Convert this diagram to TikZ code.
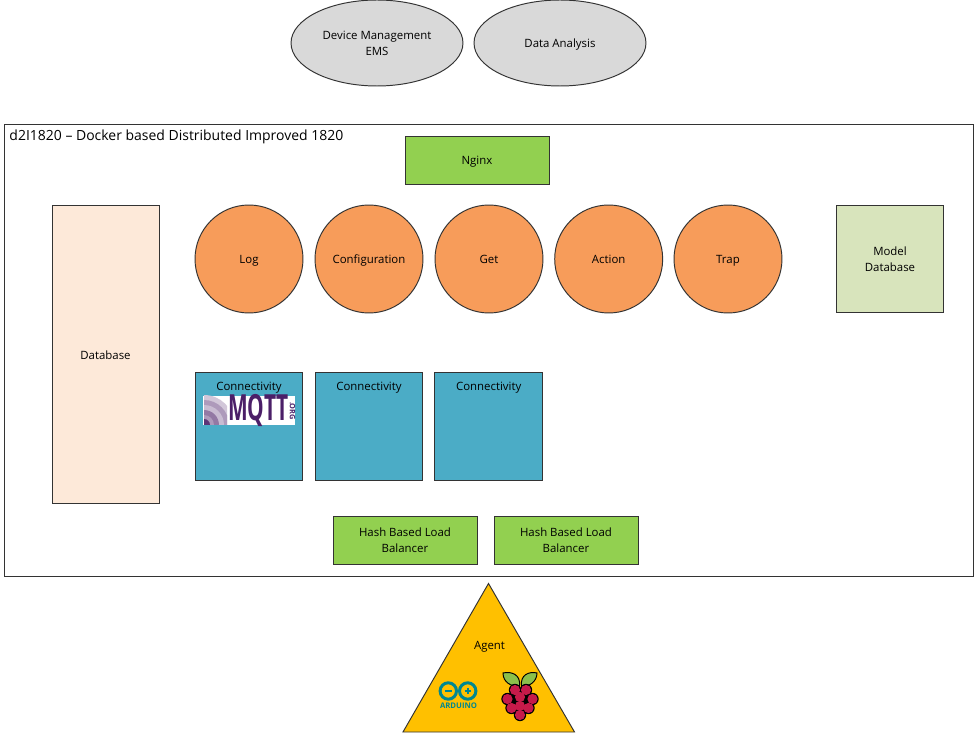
\documentclass[tikz,border=0pt]{standalone}
\usepackage{fontspec}
\setmainfont{Open Sans}
\usetikzlibrary{shapes.geometric}
\definecolor{greyapp}{HTML}{D9D9D9}
\definecolor{greenbox}{HTML}{92D050}
\definecolor{orangeapp}{HTML}{F79C5A}
\definecolor{bluebox}{HTML}{4BACC6}
\definecolor{dbpeach}{HTML}{FDE9D9}
\definecolor{dbgreen}{HTML}{D8E4BC}
\definecolor{agentgold}{HTML}{FFC000}
\definecolor{mqttpurple}{HTML}{4B1F68}
\definecolor{arduteal}{HTML}{00878F}
\definecolor{berryred}{HTML}{C51A4A}
\definecolor{leafgreen}{HTML}{8CC04B}
\tikzset{
  every node/.style={font=\fontsize{6.5pt}{9.2pt}\selectfont, align=center, inner sep=0pt},
  lbl/.style={execute at begin node={\rule{0pt}{#1}}, execute at end node=\strut},
  lbl/.default=7.6pt,
  appoval/.style={draw=black!80, fill=greyapp, ellipse, minimum width=3.44cm, minimum height=1.72cm},
  greenbox/.style={draw=black!80, fill=greenbox, minimum width=2.88cm, minimum height=0.96cm},
  module/.style={draw=black!80, fill=orangeapp, circle, lbl, minimum size=2.16cm},
  connbox/.style={draw=black!80, fill=bluebox, minimum size=2.15cm},
}
\begin{document}
\begin{tikzpicture}[x=0.02cm, y=-0.02cm, line width=0.55pt]
\useasboundingbox (0,0) rectangle (975,733);

% Management Applications
\node[appoval] (ems) at (377,43) {Device Management\\EMS};
\node[appoval, lbl] (analysis) at (560,43) {Data Analysis};

% Main Frame
\node[draw=black!80, minimum width=19.4cm, minimum height=9.04cm] (frame) at (489,350.3) {};
\node[anchor=west, font=\fontsize{7.95pt}{9pt}\selectfont] (title) at (9,136.5) {d2I1820 -- Docker based Distributed Improved 1820};

\node[greenbox, lbl] (nginx) at (477,160) {Nginx};

% Databases
\node[draw=black!80, fill=dbpeach, lbl=8.7pt, minimum width=2.14cm, minimum height=5.98cm] (database) at (105.5,354.5) {Database};
\node[draw=black!80, fill=dbgreen, minimum size=2.15cm] (modeldb) at (890,259) {Model\\Database};

% Modules
\node[module] (log) at (249,259) {Log};
\node[module] (config) at (369,259) {Configuration};
\node[module] (get) at (489,259) {Get};
\node[module] (action) at (608.7,259) {Action};
\node[module] (trap) at (728,259) {Trap};

% Connectivity
\foreach \name/\x in {connA/249,connB/369,connC/488.7}
    \node[connbox] (\name) at (\x,426.7) {};
\foreach \name in {connA,connB,connC}
    \node[lbl] (\name label) at ([yshift=-0.28cm]\name.north) {Connectivity};

% MQTT Logo
\fill[white] (203,396) rectangle (295,425.5);
\begin{scope}
\clip (204,396) rectangle (227,425);
\foreach \r/\c in {30/mqttpurple!25,25/mqttpurple!45,20/mqttpurple!30,15/mqttpurple!60,10/mqttpurple!45,6/mqttpurple!90}
    \fill[\c] (204,425) circle (\r);
\end{scope}
\node[font=\fontsize{20.5pt}{21pt}\bfseries\selectfont, text=mqttpurple, anchor=west, xscale=0.58] (mqtt) at (228,411) {MQTT};
\node[font=\fontsize{4.2pt}{5pt}\bfseries\selectfont, text=mqttpurple, rotate=-90] (org) at (292.5,411) {.ORG};

% Load Balancers
\node[greenbox] (hashA) at (405,540) {Hash Based Load\\Balancer};
\node[greenbox] (hashB) at (566,540) {Hash Based Load\\Balancer};

% Agent
\draw[draw=black!80, fill=agentgold] (488.5,583.5) -- (574.5,732) -- (403,732) -- cycle;
\node[lbl] (agent) at (489.5,645) {Agent};

% Arduino Logo
\draw[arduteal, line width=1.7pt] (448.3,691) circle (8.2);
\draw[arduteal, line width=1.7pt] (467.7,691) circle (8.2);
\draw[arduteal, line width=1pt] (445,691) -- (451.5,691);
\draw[arduteal, line width=1pt] (464.5,691) -- (471,691) (467.7,687.8) -- (467.7,694.2);
\node[font=\fontsize{4.4pt}{5pt}\bfseries\selectfont, text=arduteal] (arduino) at (458.5,705.5) {ARDUINO};

% Raspberry Pi Logo
\fill[leafgreen, draw=black] (519.5,686) .. controls (511,687) and (503,682) .. (503,673) .. controls (512,671) and (521,675) .. (519.5,686);
\fill[leafgreen, draw=black] (521.5,686) .. controls (530,687) and (537,681) .. (537,673) .. controls (529,671) and (520,675) .. (521.5,686);
\fill[black] (515,690) -- (526,690) -- (532.5,699) -- (528.5,708) -- (520,715) -- (511.5,708) -- (507.5,699) -- cycle;
\foreach \x/\y in {515/690,526/690,507.5/699,520/697,532.5/699,511.5/708,520/706,528.5/708,520/715}
    \fill[black] (\x,\y) circle (6.2);
\foreach \x/\y in {515/690,526/690,507.5/699,520/697,532.5/699,511.5/708,520/706,528.5/708,520/715}
    \fill[berryred] (\x,\y) circle (5.1);
\end{tikzpicture}
\end{document}
